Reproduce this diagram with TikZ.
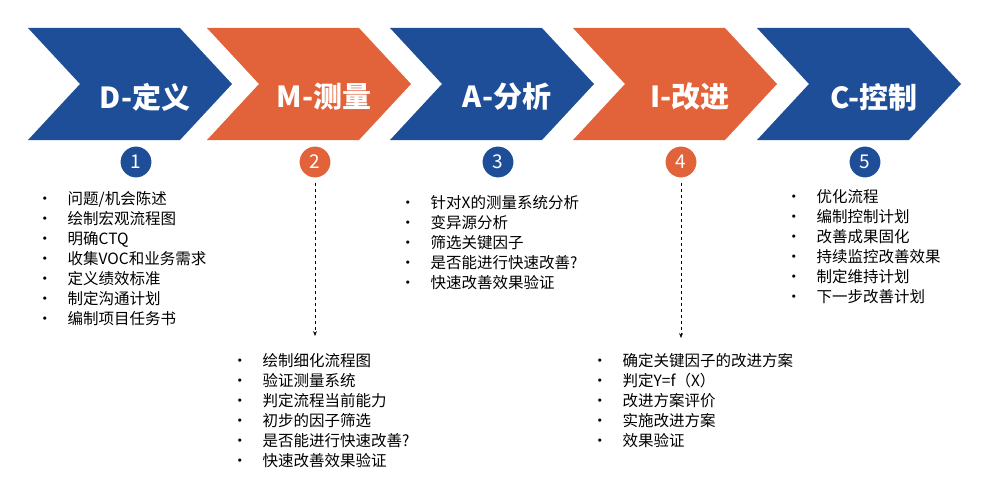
\documentclass[tikz,border=0pt]{standalone}
\usepackage{fontspec}
\setmainfont{Noto Sans CJK SC}
\usetikzlibrary{arrows.meta,positioning}
\definecolor{dblue}{RGB}{31,78,152}
\definecolor{dorange}{RGB}{226,98,58}
\newcommand{\steplist}[1]{%
  \fontsize{15.5}{20}\selectfont
  \begin{tabular}{@{}l@{\hspace{15pt}}l@{}}#1\end{tabular}}
\tikzset{
  phase/.style={fill=#1,draw=none},
  phasetitle/.style={text=white,font=\fontsize{29}{32}\selectfont\bfseries},
  numdot/.style={circle,fill=#1,draw=white,line width=2pt,minimum size=33pt,
    text=white,font=\fontsize{19}{22}\selectfont},
  stepitems/.style={anchor=north west,inner sep=0pt,align=left}
}
\begin{document}
\begin{tikzpicture}[x=1pt,y=-1pt]
    \useasboundingbox (0,0) rectangle (987,484);
    % chevrons
    \foreach \x/\c/\t/\n in {28/dblue/D-定义/1, 207/dorange/M-测量/2,
        390/dblue/A-分析/3, 573/dorange/I-改进/4, 757/dblue/C-控制/5}{
      \fill[phase=\c] (\x,28) -- ++(152,0) -- ++(52,56) -- ++(-52,56)
          -- ++(-152,0) -- ++(52,-56) -- cycle;
      \node[phasetitle] (t\n) at (\x+117,97) {\t};
      \node[numdot=\c] (c\n) at (\x+108,162) {\n};
    }
    % step lists
    \node[stepitems] (m1) at (37,190) {\steplist{
      • & 问题/机会陈述\\ • & 绘制宏观流程图\\ • & 明确CTQ\\
      • & 收集VOC和业务需求\\ • & 定义绩效标准\\ • & 制定沟通计划\\
      • & 编制项目任务书}};
    \node[stepitems] (m2) at (232,352) {\steplist{
      • & 绘制细化流程图\\ • & 验证测量系统\\ • & 判定流程当前能力\\
      • & 初步的因子筛选\\ • & 是否能进行快速改善?\\ • & 快速改善效果验证}};
    \node[stepitems] (m3) at (400,194) {\steplist{
      • & 针对X的测量系统分析\\ • & 变异源分析\\ • & 筛选关键因子\\
      • & 是否能进行快速改善?\\ • & 快速改善效果验证}};
    \node[stepitems] (m4) at (592,352) {\steplist{
      • & 确定关键因子的改进方案\\ • & 判定Y=f（X）\\ • & 改进方案评价\\
      • & 实施改进方案\\ • & 效果验证}};
    \node[stepitems] (m5) at (786,188) {\steplist{
      • & 优化流程\\ • & 编制控制计划\\ • & 改善成果固化\\
      • & 持续监控改善效果\\ • & 制定维持计划\\ • & 下一步改善计划}};
    % links down
    \coordinate (e2) at (c2 |- 0,336);
    \coordinate (e4) at (c4 |- 0,338);
    \draw[dashed,-Stealth] (c2.south) ++(0,3) -- (e2);
    \draw[dashed,-Stealth] (c4.south) ++(0,3) -- (e4);
\end{tikzpicture}
\end{document}
